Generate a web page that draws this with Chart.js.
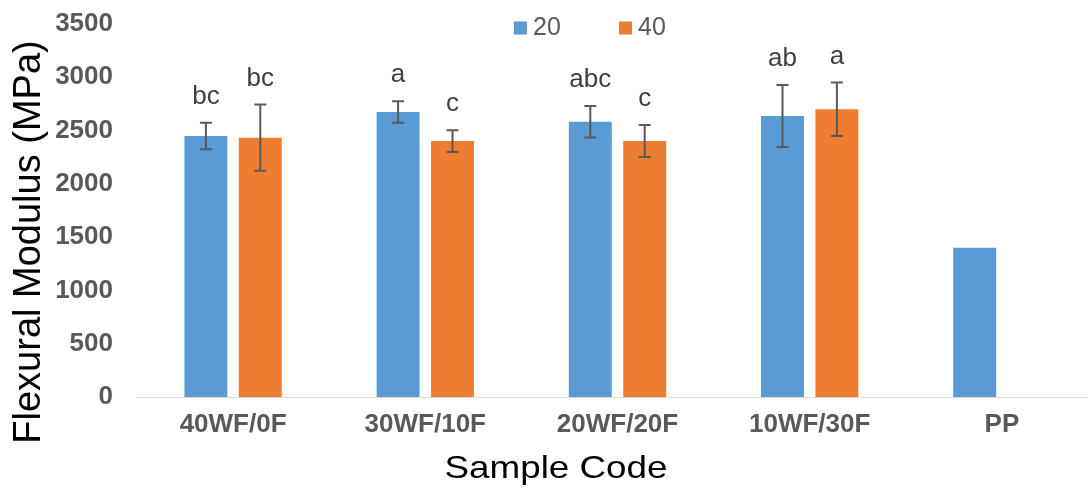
<!DOCTYPE html>
<html>
<head>
<meta charset="utf-8">
<script src="https://cdn.jsdelivr.net/npm/chart.js@4.4.1/dist/chart.umd.min.js"></script>
<style>
  html, body { margin: 0; padding: 0; background: #ffffff; overflow: hidden; }
  #wrap { position: relative; width: 1098px; height: 488px; }
</style>
</head>
<body>
<div id="wrap"><canvas id="c"></canvas></div>
<script>
const categories = ['40WF/0F', '30WF/10F', '20WF/20F', '10WF/30F', 'PP'];
const seriesNames = ['20', '40'];
const values20 = [2449, 2674, 2583, 2637, 1400];
const errors20 = [125, 100, 148, 290, 0];
const values40 = [2433, 2402, 2402, 2700, null];
const errors40 = [311, 102, 151, 250, null];
const letters20 = ['bc', 'a', 'abc', 'ab', ''];
const letters40 = ['bc', 'c', 'c', 'a', ''];
const yTicks = [0, 500, 1000, 1500, 2000, 2500, 3000, 3500];
const yTitle = 'Flexural Modulus (MPa)';
const xTitle = 'Sample Code';

const FONT = '"Liberation Sans", Arial, sans-serif';
const BLUE = '#5B9BD5';
const ORANGE = '#ED7D31';

const errorsBySeries = [errors20, errors40];
const lettersBySeries = [letters20, letters40];

const extrasPlugin = {
  id: 'extras',
  afterDatasetsDraw(chart) {
    const ctx = chart.ctx;
    const y = chart.scales.y;
    ctx.save();
    chart.data.datasets.forEach((ds, di) => {
      const meta = chart.getDatasetMeta(di);
      meta.data.forEach((bar, i) => {
        const v = ds.data[i];
        if (v === null || v === undefined) return;
        const e = errorsBySeries[di][i] || 0;
        const x = bar.x;
        let topPx = y.getPixelForValue(v);
        if (e > 0) {
          const yTop = y.getPixelForValue(v + e);
          const yBot = y.getPixelForValue(v - e);
          ctx.strokeStyle = '#595959';
          ctx.lineWidth = 2;
          ctx.beginPath();
          ctx.moveTo(x, yTop); ctx.lineTo(x, yBot);
          ctx.moveTo(x - 6, yTop); ctx.lineTo(x + 6, yTop);
          ctx.moveTo(x - 6, yBot); ctx.lineTo(x + 6, yBot);
          ctx.stroke();
          topPx = yTop;
        }
        const txt = lettersBySeries[di][i];
        if (txt) {
          ctx.fillStyle = '#404040';
          ctx.font = '26px ' + FONT;
          ctx.textAlign = 'center';
          ctx.textBaseline = 'alphabetic';
          ctx.fillText(txt, x, topPx - 19);
        }
      });
    });
    ctx.restore();
  },
  afterDraw(chart) {
    const ctx = chart.ctx;
    ctx.save();
    let lx = 514;
    chart.data.datasets.forEach((ds, di) => {
      ctx.fillStyle = ds.backgroundColor;
      ctx.fillRect(lx, 21.5, 13, 13);
      ctx.fillStyle = '#595959';
      ctx.font = '25px ' + FONT;
      ctx.textAlign = 'left';
      ctx.textBaseline = 'middle';
      ctx.fillText(ds.label, lx + 19, 28.5);
      lx += 105;
    });
    ctx.fillStyle = '#000000';
    ctx.font = '38px ' + FONT;
    ctx.textAlign = 'center';
    ctx.textBaseline = 'middle';
    ctx.translate(30, 242);
    ctx.rotate(-Math.PI / 2);
    ctx.fillText(yTitle, 0, 0);
    ctx.restore();
    ctx.save();
    ctx.fillStyle = '#000000';
    ctx.font = '32px ' + FONT;
    ctx.textAlign = 'center';
    ctx.textBaseline = 'alphabetic';
    ctx.translate(556, 478);
    ctx.scale(1.15, 1);
    ctx.fillText(xTitle, 0, 0);
    ctx.restore();
  }
};

new Chart(document.getElementById('c'), {
  type: 'bar',
  data: {
    labels: categories,
    datasets: [
      { label: seriesNames[0], data: values20, backgroundColor: BLUE },
      { label: seriesNames[1], data: values40, backgroundColor: ORANGE }
    ]
  },
  options: {
    responsive: true,
    maintainAspectRatio: false,
    animation: false,
    devicePixelRatio: 1,
    layout: { padding: { top: 24, left: 0, right: 0, bottom: 0 } },
    categoryPercentage: 0.566,
    barPercentage: 0.79,
    plugins: { legend: { display: false }, tooltip: { enabled: false } },
    scales: {
      x: {
        grid: { display: false, drawTicks: false },
        border: { display: true, color: '#d9d9d9', width: 1 },
        ticks: { color: '#595959', font: { family: FONT, size: 26, weight: 'bold' }, padding: 12, maxRotation: 0, autoSkip: false },
        afterFit(scale) { scale.height = 91; scale.paddingLeft = 0; scale.paddingRight = 0; }
      },
      y: {
        min: 0, max: 3500,
        grid: { display: false, drawTicks: false },
        border: { display: false },
        afterBuildTicks(scale) { scale.ticks = yTicks.map(v => ({ value: v })); },
        ticks: { color: '#595959', font: { family: FONT, size: 26, weight: 'bold' }, padding: 24, callback: (v) => String(v) },
        afterFit(scale) { scale.width = 137; scale.paddingTop = 0; scale.paddingBottom = 0; }
      }
    }
  },
  plugins: [extrasPlugin]
});
</script>
</body>
</html>
